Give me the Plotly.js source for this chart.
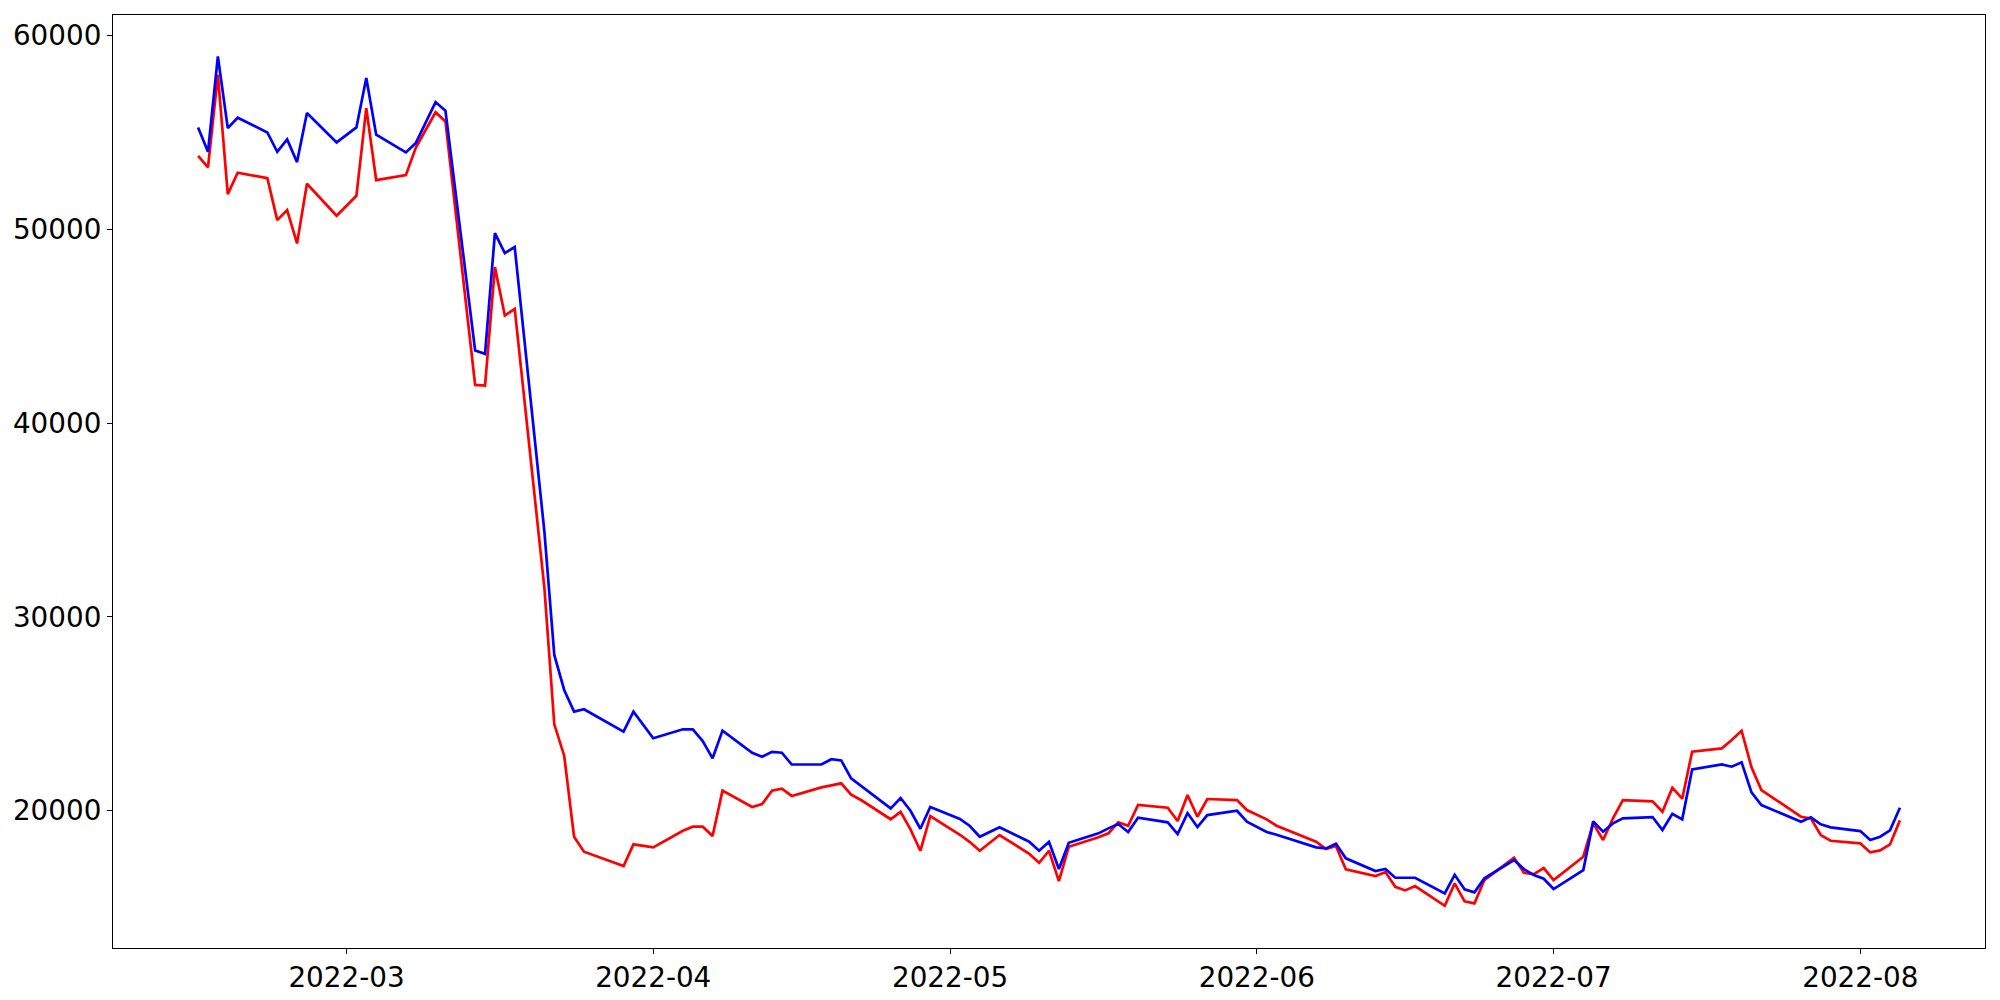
<!DOCTYPE html>
<html>
<head>
<meta charset="utf-8">
<script src="https://cdn.plot.ly/plotly-3.0.1.min.js"></script>
<style>html,body{margin:0;padding:0;background:#fff;}#chart{width:2000px;height:1000px;}</style>
</head>
<body>
<div id="chart"></div>
<script>
const dates = [
 "2022-02-14","2022-02-15","2022-02-16","2022-02-17","2022-02-18","2022-02-21","2022-02-22","2022-02-23","2022-02-24","2022-02-25","2022-02-28",
 "2022-03-02","2022-03-03","2022-03-04","2022-03-07","2022-03-08","2022-03-10","2022-03-11","2022-03-14","2022-03-15","2022-03-16","2022-03-17","2022-03-18","2022-03-21","2022-03-22","2022-03-23","2022-03-24","2022-03-25","2022-03-29","2022-03-30",
 "2022-04-01","2022-04-04","2022-04-05","2022-04-06","2022-04-07","2022-04-08","2022-04-11","2022-04-12","2022-04-13","2022-04-14","2022-04-15","2022-04-18","2022-04-19","2022-04-20","2022-04-21","2022-04-22","2022-04-25","2022-04-26","2022-04-27","2022-04-28","2022-04-29",
 "2022-05-02","2022-05-03","2022-05-04","2022-05-06","2022-05-09","2022-05-10","2022-05-11","2022-05-12","2022-05-13","2022-05-16","2022-05-17","2022-05-18","2022-05-19","2022-05-20","2022-05-23","2022-05-24","2022-05-25","2022-05-26","2022-05-27","2022-05-30","2022-05-31",
 "2022-06-02","2022-06-03","2022-06-07","2022-06-08","2022-06-09","2022-06-10","2022-06-13","2022-06-14","2022-06-15","2022-06-16","2022-06-17","2022-06-20","2022-06-21","2022-06-22","2022-06-23","2022-06-24","2022-06-27","2022-06-28","2022-06-29","2022-06-30",
 "2022-07-01","2022-07-04","2022-07-05","2022-07-06","2022-07-07","2022-07-08","2022-07-11","2022-07-12","2022-07-13","2022-07-14","2022-07-15","2022-07-18","2022-07-19","2022-07-20","2022-07-21","2022-07-22","2022-07-26","2022-07-27","2022-07-28","2022-07-29",
 "2022-08-01","2022-08-02","2022-08-03","2022-08-04","2022-08-05"
];

const blueSeries = [
 55253,53997,58918,55219,55752,54995,53997,54634,53464,55993,54479,
 55253,57799,54875,53963,54444,56560,56120,43742,43571,49801,48769,49079,34400,28036,26230,25110,25233,24078,25110,
 23737,24201,24201,23597,22704,24134,22993,22787,23040,22993,22384,22384,22658,22596,21667,21290,20124,20656,20000,19071,20191,
 19573,19211,18658,19144,18400,17935,18400,16991,18349,18833,19091,19313,18900,19638,19401,18797,19880,19157,19777,20000,19432,
 18900,18761,18111,18059,18297,17543,16888,16991,16542,16542,16542,15737,16697,15944,15789,16511,17456,16991,16681,16490,
 15960,16939,19451,18917,19347,19605,19674,19003,19846,19554,22134,22392,22272,22496,20947,20293,19433,19657,19296,19141,
 18952,18487,18659,18986,20156
];

const redSeries = [
 53791,53189,57971,51812,52913,52638,50470,50986,49266,52346,50694,
 51726,56251,52535,52793,54200,56035,55563,41971,41935,48046,45548,45894,31500,24459,22839,18658,17884,17146,18266,
 18111,18969,19175,19175,18695,21037,20196,20340,21037,21140,20763,21207,21311,21414,20825,20552,19561,19943,19035,17935,19726,
 18761,18384,17935,18745,17781,17316,17935,16372,18142,18627,18833,19401,19226,20294,20155,19468,20810,19691,20604,20552,20036,
 19556,19226,18400,18023,18178,16975,16630,16836,16077,15889,16113,15097,16253,15324,15221,16423,17574,16800,16733,17043,
 16423,17626,19350,18487,19605,20552,20483,19949,21188,20620,23046,23218,23648,24130,22238,21068,19691,19605,18745,18453,
 18315,17850,17954,18263,19502
];

const xTickVals = ["2022-03-01","2022-04-01","2022-05-01","2022-06-01","2022-07-01","2022-08-01"];
const xTickText = ["2022-03","2022-04","2022-05","2022-06","2022-07","2022-08"];
const yTickVals = [20000,30000,40000,50000,60000];

const traces = [
  {x: dates, y: redSeries, type: "scatter", mode: "lines", line: {color: "#ff0000", width: 2.7}, hoverinfo: "skip"},
  {x: dates, y: blueSeries, type: "scatter", mode: "lines", line: {color: "#0000ff", width: 2.7}, hoverinfo: "skip"}
];

const axisCommon = {
  showgrid: false, zeroline: false, showline: true, mirror: true,
  linecolor: "#000", linewidth: 1.1, ticks: "outside", ticklen: 5, tickwidth: 1.1, tickcolor: "#000",
  tickfont: {family: "DejaVu Sans", size: 27.8, color: "#000"}
};

const layout = {
  width: 2000, height: 1000,
  margin: {l: 113, r: 15, t: 15, b: 52, pad: 0},
  paper_bgcolor: "#fff", plot_bgcolor: "#fff",
  showlegend: false,
  font: {family: "DejaVu Sans", size: 27.8, color: "#000"},
  xaxis: Object.assign({}, axisCommon, {
    type: "date",
    range: ["2022-02-05 09:36", "2022-08-13 14:24"],
    tickmode: "array", tickvals: xTickVals, ticktext: xTickText
  }),
  yaxis: Object.assign({}, axisCommon, {
    range: [12918, 61053],
    tickmode: "array", tickvals: yTickVals, tickformat: "d"
  })
};

Plotly.newPlot("chart", traces, layout, {staticPlot: true, displayModeBar: false});
</script>
</body>
</html>
